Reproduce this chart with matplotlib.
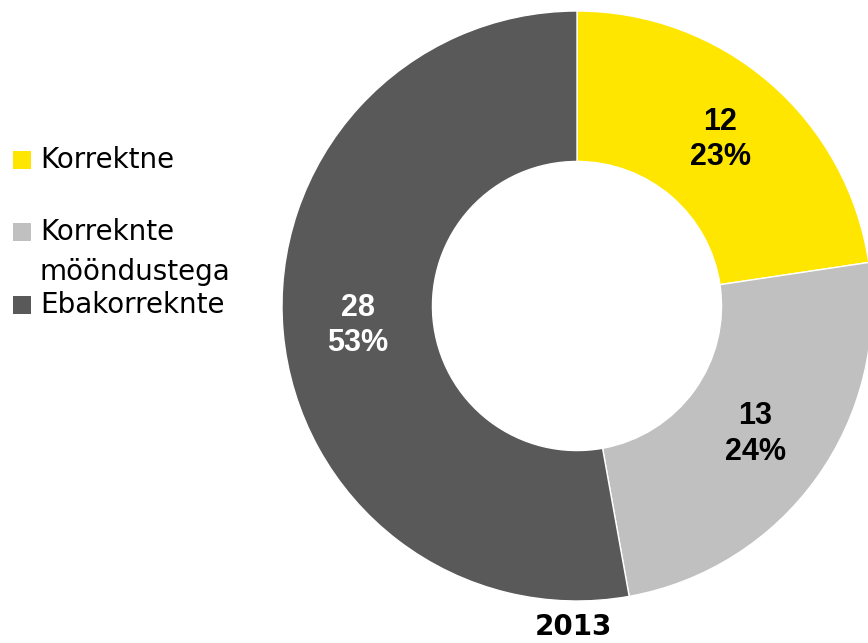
import matplotlib
matplotlib.use("Agg")
from matplotlib import pyplot as plt
from matplotlib import font_manager
from matplotlib.patches import Rectangle
import numpy as np

# andmed
categories = ["Korrektne", "Korreknte\nmööndustega", "Ebakorreknte"]
values = [12, 13, 28]
percents = [23, 24, 53]
colors = ["#FFE600", "#C0C0C0", "#595959"]
label_colors = ["black", "black", "white"]
title = "2013"

names = {f.name for f in font_manager.fontManager.ttflist}
narrow = [n for n in ["Liberation Sans Narrow", "DejaVu Sans Condensed", "Liberation Sans"] if n in names]
narrow = narrow[:1] + ["DejaVu Sans"]

fig = plt.figure(figsize=(8.68, 6.43), dpi=100)
W, H = 868, 643
cx, cy, r = 577, 306, 295
ax = fig.add_axes([(cx - r) / W, (H - cy - r) / H, 2 * r / W, 2 * r / H])

total = sum(values)
ax.pie(values, colors=colors, startangle=90, counterclock=False,
       radius=1.0, wedgeprops=dict(width=0.51, edgecolor="white", linewidth=1))
ax.set_xlim(-1, 1)
ax.set_ylim(-1, 1)
ax.set_aspect("equal")
ax.axis("off")

# sildid lõikude keskele
ang = 90.0
for v, p, c in zip(values, percents, label_colors):
    span = 360.0 * v / total
    mid = np.deg2rad(ang - span / 2)
    ang -= span
    ax.text(0.745 * np.cos(mid), 0.745 * np.sin(mid), f"{v}\n{p}%",
            ha="center", va="center", color=c, fontsize=22, fontweight="bold",
            family=narrow, linespacing=1.25)

# legend (käsitsi, ebaühtlane vahe nagu originaalis)
legend_y = [160, 232, 305]
for name, col, y in zip(categories, colors, legend_y):
    fig.patches.append(Rectangle((13 / W, (H - y - 9) / H), 18 / W, 18 / H,
                                 transform=fig.transFigure, facecolor=col, edgecolor="none"))
    for i, line in enumerate(name.split("\n")):
        fig.text(40 / W, (H - y - 40 * i) / H, line, ha="left", va="center",
                 fontsize=20, color="black")

fig.text(573 / W, (H - 627) / H, title, ha="center", va="center",
         fontsize=20, fontweight="bold")

fig.savefig("out.png", dpi=100)
